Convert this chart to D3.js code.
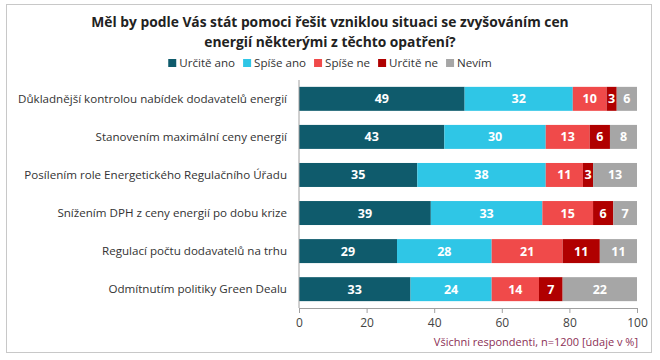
<!DOCTYPE html>
<html><head><meta charset="utf-8">
<script src="https://cdn.jsdelivr.net/npm/d3@7"></script>
<style>body{margin:0;background:#fff;font-family:"Open Sans","Noto Sans",sans-serif;}</style>
</head><body><svg id="c" width="660" height="360"></svg>
<script>
const categories = ["Důkladnější kontrolou nabídek dodavatelů energií","Stanovením maximální ceny energií","Posílením role Energetického Regulačního Úřadu","Snížením DPH z ceny energií po dobu krize","Regulací počtu dodavatelů na trhu","Odmítnutím politiky Green Dealu"];
const seriesNames = ["Určitě ano","Spíše ano","Spíše ne","Určitě ne","Nevím"];
const urciteAno = [49,43,35,39,29,33];
const spiseAno = [32,30,38,33,28,24];
const spiseNe = [10,13,11,15,21,14];
const urciteNe = [3,6,3,6,11,7];
const nevim = [6,8,13,7,11,22];
const xTicks = [0,20,40,60,80,100];
const colors = ["#0f5b6c","#2fc6e6","#f04a4a","#b00000","#a6a6a6"];

const svg = d3.select("#c");
svg.append("rect").attr("x",6.5).attr("y",4.5).attr("width",645).attr("height",348).attr("fill","#fff").attr("stroke","#c8c8c8");

svg.append("text").attr("x",330).attr("y",27).attr("text-anchor","middle").attr("font-size",13.8).attr("font-weight","bold").attr("fill","#222").text("Měl by podle Vás stát pomoci řešit vzniklou situaci se zvyšováním cen");
svg.append("text").attr("x",330).attr("y",47).attr("text-anchor","middle").attr("font-size",13.8).attr("font-weight","bold").attr("fill","#222").text("energií některými z těchto opatření?");

const data = categories.map((c,i)=>({cat:c, v:[urciteAno[i],spiseAno[i],spiseNe[i],urciteNe[i],nevim[i]]}));

const x = d3.scaleLinear().domain([0,100]).range([299,637]);
const y = d3.scaleBand().domain(categories).range([80,308]).paddingInner(0.37).paddingOuter(0.18);

// legend
const legendItems = seriesNames.map((n,i)=>({n,c:colors[i]}));
const lg = svg.append("g");
let lx = 0;
legendItems.forEach((d,i)=>{
  const g = lg.append("g").attr("transform",`translate(${lx},0)`);
  g.append("rect").attr("x",0).attr("y",-8).attr("width",8).attr("height",8).attr("fill",d.c);
  const t = g.append("text").attr("x",11).attr("y",0).attr("font-size",11.6).attr("fill","#333").text(d.n);
  lx += 11 + t.node().getComputedTextLength() + 8;
});
lg.attr("transform",`translate(${330-(lx-8)/2},67)`);

const stack = data.map(d=>{let acc=0; return d.v.map((v,k)=>{const s={cat:d.cat,k,v,x0:acc,x1:acc+v}; acc+=v; return s;});}).flat();

svg.append("g").selectAll("rect").data(stack).join("rect")
  .attr("x",d=>x(d.x0)).attr("y",d=>y(d.cat)).attr("width",d=>x(d.x1)-x(d.x0)).attr("height",y.bandwidth()).attr("fill",d=>colors[d.k]);

svg.append("g").selectAll("text").data(stack).join("text")
  .attr("x",d=>(x(d.x0)+x(d.x1))/2).attr("y",d=>y(d.cat)+y.bandwidth()/2+4.5)
  .attr("text-anchor","middle").attr("font-size",12.5).attr("font-weight","bold").attr("fill","#fff").text(d=>d.v);

// y axis
const ya = svg.append("g").attr("transform","translate(299,0)").call(d3.axisLeft(y).tickSize(0).tickPadding(12));
ya.select(".domain").attr("stroke","#a0a0a0").attr("d","M0,80V308");
ya.selectAll("text").attr("font-size",11.6).attr("fill","#333").attr("font-family","'Open Sans','Noto Sans',sans-serif");

const xa = svg.append("g").attr("transform","translate(0,308)").call(d3.axisBottom(x).tickValues(xTicks).tickSize(5).tickSizeOuter(0).tickPadding(5));
xa.select(".domain").attr("stroke","#a0a0a0");
xa.selectAll("line").attr("stroke","#a0a0a0");
xa.selectAll("text").attr("font-size",12).attr("fill","#444").attr("font-family","'Open Sans','Noto Sans',sans-serif");

svg.append("text").attr("x",638).attr("y",346).attr("text-anchor","end").attr("font-size",11).attr("fill","#8c2f55").text("Všichni respondenti, n=1200 [údaje v %]");
</script></body></html>
